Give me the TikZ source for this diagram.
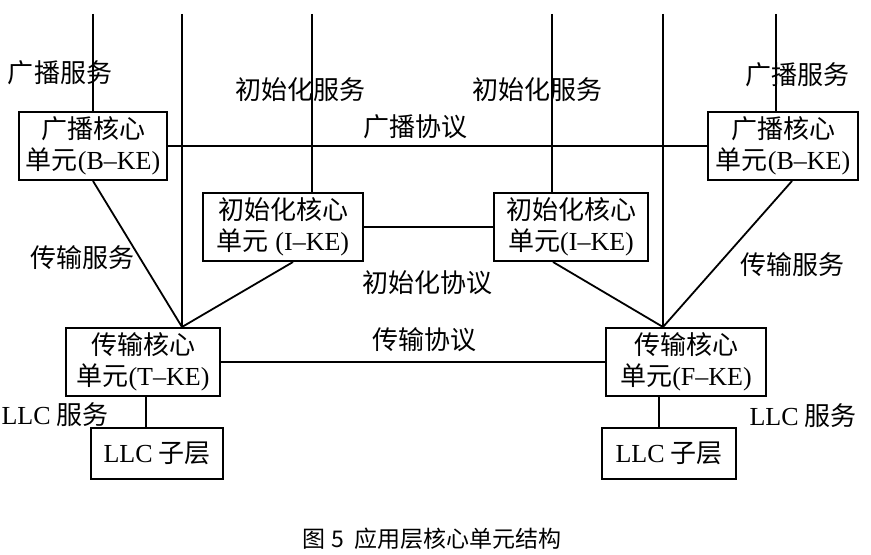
\documentclass[tikz,border=0pt]{standalone}
\usepackage{fontspec}
\setmainfont{Liberation Serif}
\newfontfamily\cjk{Noto Sans CJK SC}
\newcommand\lat[1]{{\rmfamily #1}}
\begin{document}
\begin{tikzpicture}[x=0.5pt,y=-0.5pt,
  b/.style={draw,line width=1pt,align=center,inner sep=1pt,minimum height=34pt,font=\cjk\fontsize{13}{15.5}\selectfont},
  l/.style={inner sep=0pt,font=\cjk\fontsize{13}{15.5}\selectfont},
  e/.style={line width=0.9pt}]
\useasboundingbox (0,0) rectangle (871,555);
% core units
\node[b,minimum width=74pt] (bkeL) at (93,146) {广播核心\\单元\lat{(B–KE)}};
\node[b,minimum width=75pt] (bkeR) at (783,146) {广播核心\\单元\lat{(B–KE)}};
\node[b,minimum width=80pt] (ikeL) at (283,227) {初始化核心\\单元\lat{ (I–KE)}};
\node[b,minimum width=77pt] (ikeR) at (571,227) {初始化核心\\单元\lat{(I–KE)}};
\node[b,minimum width=77pt] (tkeL) at (143,362) {传输核心\\单元\lat{(T–KE)}};
\node[b,minimum width=80pt] (tkeR) at (686,362) {传输核心\\单元\lat{(F–KE)}};
\node[b,minimum width=66pt,minimum height=25.5pt] (llcL) at (157,453) {\lat{LLC} 子层};
\node[b,minimum width=67pt,minimum height=25.5pt] (llcR) at (669,453) {\lat{LLC} 子层};
% upper ends of the service lines
\coordinate (sA) at (93,14);
\coordinate (sB) at (182,14);
\coordinate (sC) at (312,14);
\coordinate (sD) at (552,14);
\coordinate (sE) at (663,14);
\coordinate (sF) at (776,14);
\coordinate (jL) at (sB |- tkeL.north);
\coordinate (jR) at (sE |- tkeR.north);
\draw[e] (sA) -- (sA |- bkeL.north);
\draw[e] (sB) -- (jL);
\draw[e] (sC) -- (sC |- ikeL.north);
\draw[e] (sD) -- (sD |- ikeR.north);
\draw[e] (sE) -- (jR);
\draw[e] (sF) -- (sF |- bkeR.north);
% protocols
\draw[e] (bkeL) -- (bkeR);
\draw[e] (ikeL) -- (ikeR);
\draw[e] (tkeL) -- (tkeR);
% transport services
\draw[e] (bkeL.south) -- (jL);
\draw[e] ([xshift=5pt]ikeL.south) -- (jL);
\draw[e] ([xshift=-9pt]ikeR.south) -- (jR);
\draw[e] ([xshift=4.5pt]bkeR.south) -- (jR);
% LLC services
\draw[e] ([xshift=1.5pt]tkeL.south) -- ([xshift=1.5pt]tkeL.south |- llcL.north);
\draw[e] ([xshift=-5pt]llcR.north) -- ([xshift=-5pt]llcR.north |- tkeR.south);
% labels
\node[l] (lbsL) at (60,73) {广播服务};
\node[l] (lisL) at (300,90) {初始化服务};
\node[l] (lbp) at (415,127) {广播协议};
\node[l] (lisR) at (537,90) {初始化服务};
\node[l] (lbsR) at (797,75) {广播服务};
\node[l] (ltsL) at (82,258) {传输服务};
\node[l] (ltsR) at (792,265) {传输服务};
\node[l] (lip) at (427,283) {初始化协议};
\node[l] (ltp) at (424,340) {传输协议};
\node[l] (llsL) at (55,415) {\lat{LLC} 服务};
\node[l] (llsR) at (803,416) {\lat{LLC} 服务};
\node[inner sep=0pt,font=\cjk\fontsize{11.5}{14}\selectfont] (cap) at (432,539) {图 5\ \ 应用层核心单元结构};
\end{tikzpicture}
\end{document}
